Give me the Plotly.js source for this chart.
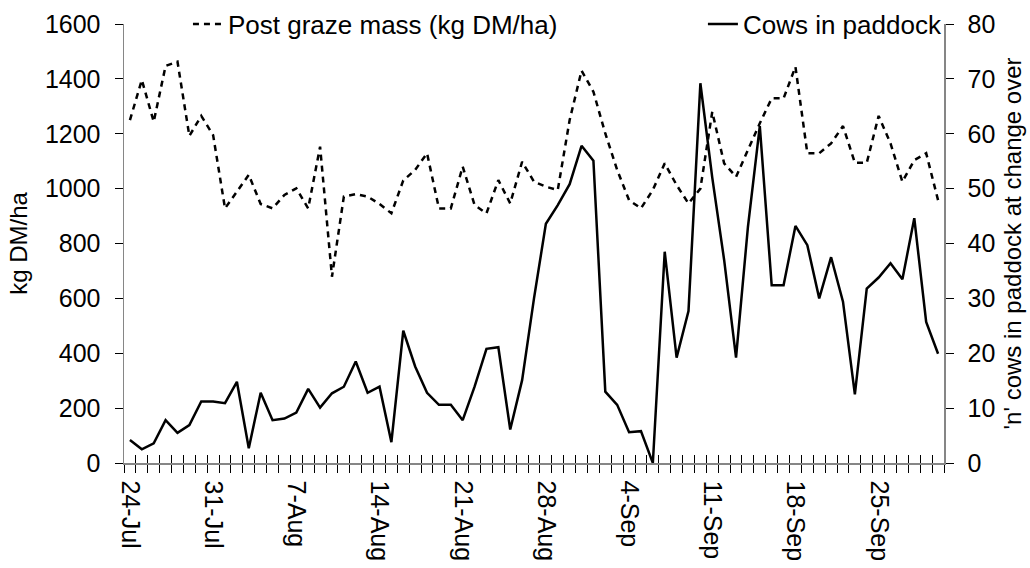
<!DOCTYPE html>
<html><head><meta charset="utf-8">
<script src="https://cdn.plot.ly/plotly-3.0.1.min.js"></script>
<style>html,body{margin:0;padding:0;background:#fff}#chart{width:1030px;height:568px}</style>
</head><body><div id="chart"></div>
<script>
const dates = ['24-Jul','25-Jul','26-Jul','27-Jul','28-Jul','29-Jul','30-Jul','31-Jul',
'1-Aug','2-Aug','3-Aug','4-Aug','5-Aug','6-Aug','7-Aug','8-Aug','9-Aug','10-Aug','11-Aug','12-Aug','13-Aug','14-Aug','15-Aug','16-Aug','17-Aug','18-Aug','19-Aug','20-Aug','21-Aug','22-Aug','23-Aug','24-Aug','25-Aug','26-Aug','27-Aug','28-Aug','29-Aug','30-Aug','31-Aug',
'1-Sep','2-Sep','3-Sep','4-Sep','5-Sep','6-Sep','7-Sep','8-Sep','9-Sep','10-Sep','11-Sep','12-Sep','13-Sep','14-Sep','15-Sep','16-Sep','17-Sep','18-Sep','19-Sep','20-Sep','21-Sep','22-Sep','23-Sep','24-Sep','25-Sep','26-Sep','27-Sep','28-Sep','29-Sep','30-Sep'];

const tickLabels = ['24-Jul','31-Jul','7-Aug','14-Aug','21-Aug','28-Aug','4-Sep','11-Sep','18-Sep','25-Sep'];

const postGrazeMass = [1250,1396,1244,1447,1463,1192,1265,1195,928,989,
1050,944,928,977,1001,928,1153,679,971,980,
971,944,910,1030,1068,1129,928,928,1080,940,
910,1031,946,1098,1025,1007,995,1250,1430,1353,
1201,1068,958,928,995,1092,1013,946,1000,1280,
1092,1043,1141,1238,1329,1329,1444,1129,1129,1165,
1228,1094,1094,1265,1165,1025,1104,1129,958];

const cowsInPaddock = [4.2,2.5,3.6,7.8,5.5,6.9,11.2,11.2,10.9,14.8,
2.7,12.8,7.8,8.1,9.2,13.5,10.1,12.7,13.9,18.5,
12.8,13.9,3.8,24.1,17.6,12.8,10.6,10.6,7.8,13.9,
20.8,21.1,6.1,15.1,30,43.6,47.0,50.8,57.8,55.1,
13.0,10.6,5.6,5.8,0,38.5,19.2,27.7,69.2,52,
37,19.2,43,61.4,32.4,32.4,43.2,39.7,30.0,37.5,
29.4,12.5,31.8,33.8,36.4,33.5,44.6,25.7,19.9];

const ticktext = dates.map(d => tickLabels.includes(d) ? d : '');
const FONT = 'Liberation Sans, Arial, sans-serif';

const traces = [
  {x: dates, y: postGrazeMass, name: 'Post graze mass (kg DM/ha)', type: 'scatter', mode: 'lines',
   line: {color: '#000', width: 2.5, dash: '6px,5px'}, xaxis: 'x', yaxis: 'y', legend: 'legend'},
  {x: dates, y: cowsInPaddock, name: 'Cows in paddock', type: 'scatter', mode: 'lines',
   line: {color: '#000', width: 2.5}, xaxis: 'x2', yaxis: 'y2', legend: 'legend2'}
];

const axLine = {showline: true, linecolor: '#868686', linewidth: 1.5, showgrid: false, zeroline: false,
  tickcolor: '#000', tickwidth: 1, ticklen: 8};

const legendBase = {orientation: 'h', xanchor: 'left', y: 1.0, yanchor: 'middle',
  bgcolor: 'rgba(0,0,0,0)', font: {family: FONT, size: 26, color: '#000'}};

const layout = {
  width: 1030, height: 568,
  margin: {l: 124, r: 86, t: 24, b: 105, autoexpand: false},
  paper_bgcolor: '#fff', plot_bgcolor: '#fff',
  font: {family: FONT, size: 25, color: '#000'},
  showlegend: true,
  legend: Object.assign({}, legendBase, {x: 0.078}),
  legend2: Object.assign({}, legendBase, {x: 0.706}),
  xaxis: Object.assign({}, axLine, {type: 'category', categoryorder: 'array', categoryarray: dates,
    range: [-0.5, dates.length - 0.5], tickmode: 'array', tickvals: dates, ticktext: ticktext,
    tickson: 'boundaries', ticks: 'outside', tickangle: 90, ticklabelstandoff: 11,
    tickfont: {family: FONT, size: 25}, anchor: 'y'}),
  xaxis2: Object.assign({}, axLine, {type: 'category', categoryorder: 'array', categoryarray: dates,
    range: [-0.5, dates.length - 0.5], tickmode: 'array', tickvals: dates,
    tickson: 'boundaries', ticks: 'inside', showticklabels: false, showline: false,
    overlaying: 'x', anchor: 'y', side: 'bottom'}),
  yaxis: Object.assign({}, axLine, {range: [0, 1600], tickmode: 'linear', tick0: 0, dtick: 200,
    ticks: 'outside', ticklabelstandoff: 9, tickfont: {family: FONT, size: 25},
    title: {text: 'kg DM/ha', font: {family: FONT, size: 24}, standoff: 10}, anchor: 'x'}),
  yaxis2: Object.assign({}, axLine, {range: [0, 80], tickmode: 'linear', tick0: 0, dtick: 10,
    ticks: 'outside', ticklabelstandoff: 9, tickfont: {family: FONT, size: 25},
    title: {text: "'n' cows in paddock at change over", font: {family: FONT, size: 24}, standoff: 10},
    overlaying: 'y', side: 'right', anchor: 'x'}),
  yaxis3: Object.assign({}, axLine, {range: [0, 1600], tickmode: 'linear', tick0: 0, dtick: 200,
    ticks: 'inside', showticklabels: false, showline: false, overlaying: 'y', side: 'left', anchor: 'x'}),
  yaxis4: Object.assign({}, axLine, {range: [0, 80], tickmode: 'linear', tick0: 0, dtick: 10,
    ticks: 'inside', showticklabels: false, showline: false, overlaying: 'y', side: 'right', anchor: 'x'})
};

Plotly.newPlot('chart', traces, layout, {displayModeBar: false, staticPlot: true});
</script></body></html>
